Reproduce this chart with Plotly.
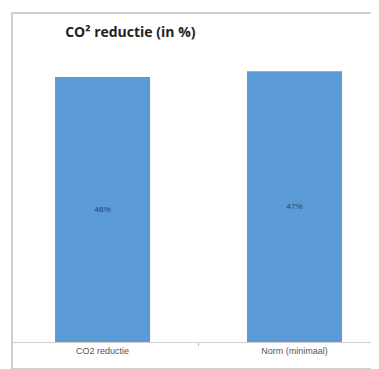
import plotly.graph_objects as go

categories = ["CO2 reductie", "Norm (minimaal)"]
values = [46, 47]
value_labels = ["46%", "47%"]

fig = go.Figure()
fig.add_trace(go.Bar(
    x=categories,
    y=values,
    text=value_labels,
    textposition="inside",
    insidetextanchor="middle",
    textfont=dict(size=8, color="#2b3f57", family="Liberation Sans"),
    marker=dict(color="#5b9bd5", line=dict(width=0)),
    width=0.495,
    showlegend=False,
))

# outer chart border, drawn as an empty boxed annotation (runs off the right edge)
fig.add_annotation(text=" ", showarrow=False, xref="paper", yref="paper",
                   x=0, y=1.17, xanchor="left", yanchor="top",
                   width=400, height=354, borderpad=0,
                   bordercolor="#cfcfcf", borderwidth=2)

# page has an 8px body margin, so the figure is drawn a bit smaller
fig.update_layout(
    width=371, height=361,
    margin=dict(l=3, r=0, t=52, b=27),
    paper_bgcolor="white", plot_bgcolor="white",
    title=dict(text="<b>CO² reductie (in %)</b>", x=0.154, xanchor="left",
               y=0.934, yanchor="middle",
               font=dict(size=14, color="#222222", family="Open Sans")),
    xaxis=dict(range=[-0.477, 1.44], showgrid=False, showline=True,
               linecolor="#d0d0d0", linewidth=1, ticks="outside",
               tickson="boundaries", ticklen=3, tickcolor="#bbbbbb",
               tickfont=dict(size=9, color="#555555", family="Liberation Sans"),
               fixedrange=True),
    yaxis=dict(range=[0, 48.96], visible=False, fixedrange=True),
)

fig.write_html("out.html")
